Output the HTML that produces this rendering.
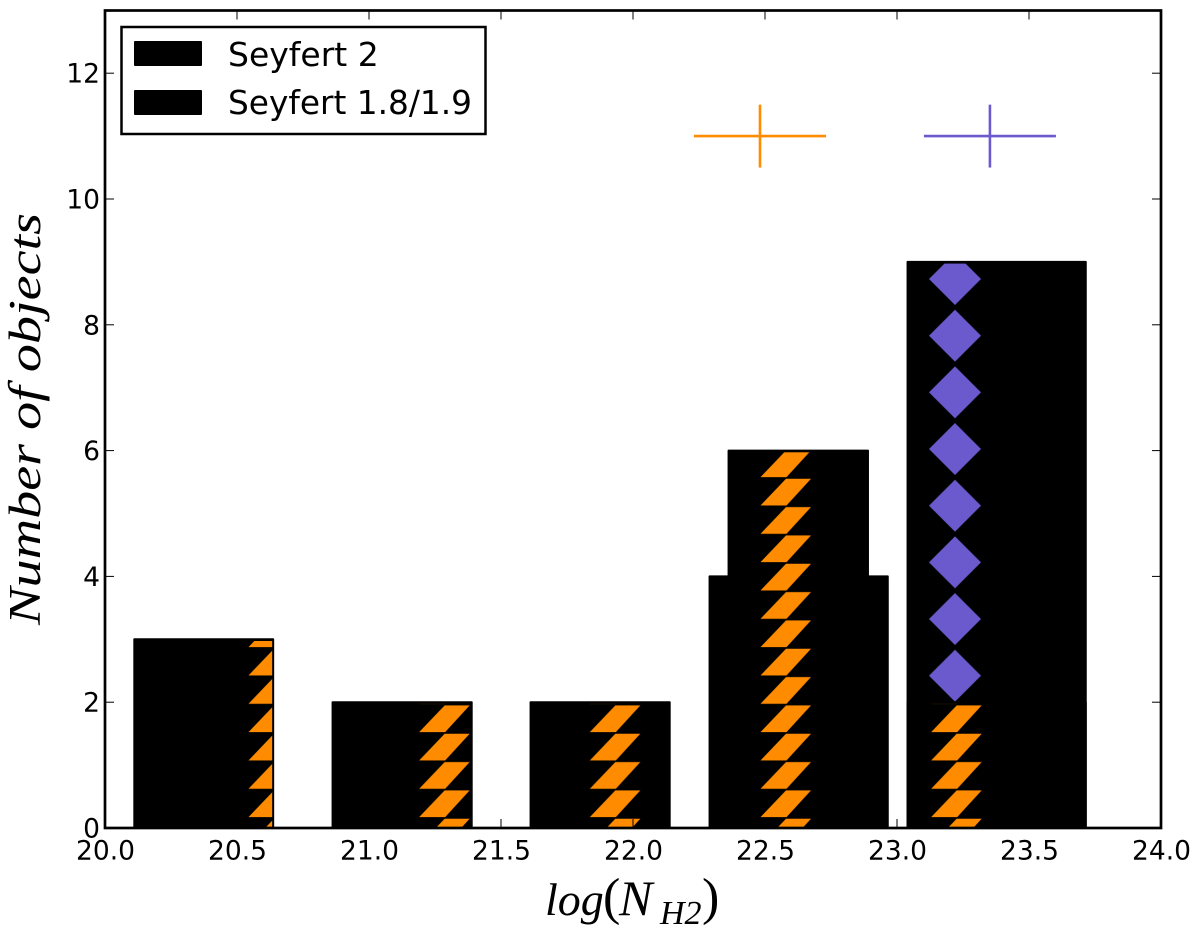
<!DOCTYPE html>
<html>
<head>
<meta charset="utf-8">
<style>
html,body{margin:0;padding:0;background:#fff;}
svg{display:block;}
text{font-family:"DejaVu Sans","Liberation Sans",sans-serif;fill:#000;}
.math{font-family:"Liberation Serif",serif;font-style:italic;}
</style>
</head>
<body>
<svg id="chart" xmlns="http://www.w3.org/2000/svg" width="1200" height="927" viewBox="0 0 1200 927">
  <defs>
    <pattern id="hatch-orange" patternUnits="userSpaceOnUse" x="750" y="648.5" width="170.67" height="28.33">
      <polygon points="10.5,27 36.5,27 61,0.3 36,0.3" fill="#FF8C00"/>
    </pattern>
    <pattern id="hatch-purple" patternUnits="userSpaceOnUse" x="870" y="647.37" width="170.67" height="56.67">
      <polygon points="85,2.33 111,28.33 85,54.33 59,28.33" fill="#6A5ACD"/>
    </pattern>
  </defs>
  <g id="bars"></g>
  <g id="errs"></g>
  <rect x="105" y="10.5" width="1056" height="817.5" fill="none" stroke="#000" stroke-width="2.7"/>
  <g id="ticks"></g>
  <g>
    <rect x="121.5" y="27" width="364" height="107" fill="#fff" stroke="#000" stroke-width="2.5"/>
    <rect x="134" y="41" width="68" height="25" rx="1" fill="#000"/>
    <text x="228" y="66" font-size="33">Seyfert 2</text>
    <rect x="134" y="90" width="68" height="25" rx="1" fill="#000"/>
    <text x="228" y="114" font-size="33" textLength="244" lengthAdjust="spacingAndGlyphs">Seyfert 1.8/1.9</text>
  </g>
  <text class="math" transform="translate(40,625) rotate(-90)" font-size="45" textLength="412" lengthAdjust="spacingAndGlyphs">Number of objects</text>
  <text class="math" y="915" font-size="46"><tspan x="545" y="915">log</tspan><tspan x="603" y="914" font-size="52" font-style="normal">(</tspan><tspan x="619" y="915" font-size="50">N</tspan><tspan x="660" y="924" font-size="34">H2</tspan><tspan x="702" y="914" font-size="52" font-style="normal">)</tspan></text>
</svg>
<script>
var xTicks = ["20.0", "20.5", "21.0", "21.5", "22.0", "22.5", "23.0", "23.5", "24.0"];
var yTicks = ["0", "2", "4", "6", "8", "10", "12"];
var purpleLefts = [22.29, 23.04];
var purpleRights = [22.965, 23.715];
var purpleCounts = [4, 9];
var orangeLefts = [20.111, 20.862, 21.612, 22.362, 23.04];
var orangeRights = [20.637, 21.389, 22.139, 22.89, 23.715];
var orangeCounts = [3, 2, 2, 6, 2];
var crossX = [22.481, 23.352];
var crossY = [11, 11];
var crossXErr = [0.25, 0.25];
var crossYErr = [0.5, 0.5];
var crossColors = ["#FF8C00", "#6A5ACD"];

var NS = "http://www.w3.org/2000/svg";
function xScale(v) { return 105 + (v - 20) * 264; }
function yScale(v) { return 828 - v * 62.9; }
function make(tag, parent, attrs) {
  var el = document.createElementNS(NS, tag);
  for (var k in attrs) { el.setAttribute(k, attrs[k]); }
  parent.appendChild(el);
  return el;
}
var barsG = document.getElementById("bars");
var errsG = document.getElementById("errs");
var ticksG = document.getElementById("ticks");

function drawBars(lefts, rights, counts, fill, label) {
  counts.forEach(function (c, i) {
    var x0 = xScale(lefts[i]), x1 = xScale(rights[i]), yt = yScale(c), yb = yScale(0);
    var base = make("rect", barsG, {x: x0, y: yt, width: x1 - x0, height: yb - yt, fill: "#000", stroke: "#000", "stroke-width": 2, "stroke-linejoin": "round"});
    
    
    base.setAttribute('data-series', label);
    var hatch = make("rect", barsG, {x: x0 + 1, y: yt + 1.7, width: x1 - x0 - 2, height: yb - yt - 2.7, fill: fill});
    
    
    hatch.setAttribute('data-series', label);
  });
}
drawBars(purpleLefts, purpleRights, purpleCounts, "url(#hatch-purple)", "purple");
drawBars(orangeLefts, orangeRights, orangeCounts, "url(#hatch-orange)", "orange");

crossX.forEach(function (cx, i) {
  var h = make("line", errsG, {x1: xScale(cx - crossXErr[i]), x2: xScale(cx + crossXErr[i]), y1: yScale(crossY[i]), y2: yScale(crossY[i]), stroke: crossColors[i], "stroke-width": 2.6});
  
  
  var v = make("line", errsG, {x1: xScale(cx), x2: xScale(cx), y1: yScale(crossY[i] + crossYErr[i]), y2: yScale(crossY[i] - crossYErr[i]), stroke: crossColors[i], "stroke-width": 2.6});
  
  
});

xTicks.forEach(function (t) {
  var x = xScale(parseFloat(t));
  [[828, 819], [10.5, 19.5]].forEach(function (p) {
    var l = make("line", ticksG, {x1: x, x2: x, y1: p[0], y2: p[1], stroke: "#000", "stroke-width": 1});
    
    
  });
  var lab = make("text", ticksG, {x: x + 0.5, y: 859.5, "font-size": 26.5, "text-anchor": "middle"});
  
  
  lab.textContent = t;
});
yTicks.forEach(function (t) {
  var y = yScale(parseFloat(t));
  [[105, 114], [1161, 1152]].forEach(function (p) {
    var l = make("line", ticksG, {x1: p[0], x2: p[1], y1: y, y2: y, stroke: "#000", "stroke-width": 1});
    
    
  });
  var lab = make("text", ticksG, {x: 100, y: y + 9.5, "font-size": 26.5, "text-anchor": "end"});
  
  
  lab.textContent = t;
});
</script>
</body>
</html>
